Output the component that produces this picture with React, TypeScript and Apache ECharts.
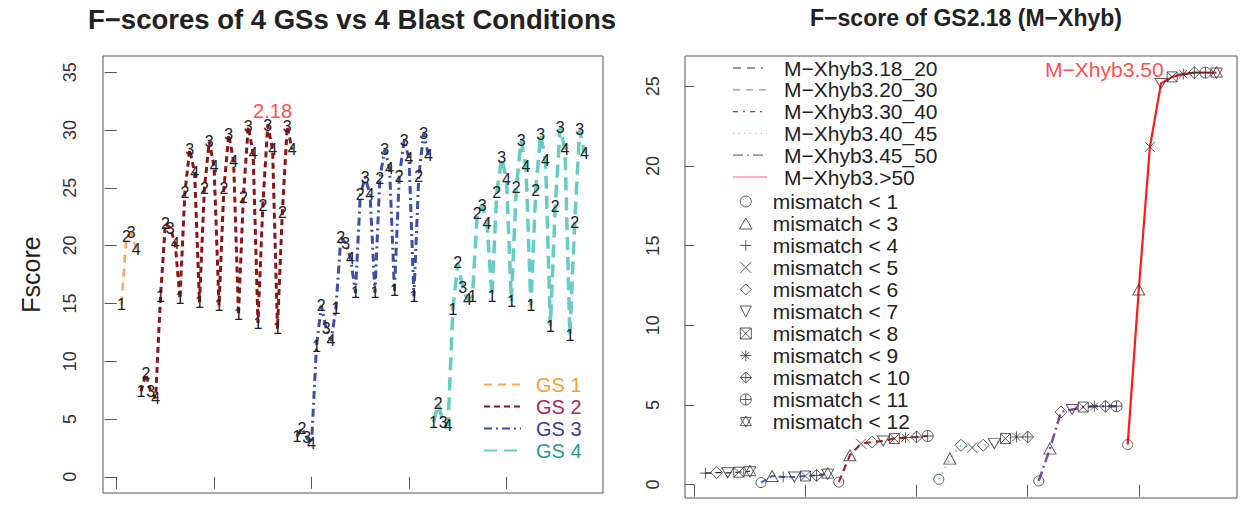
import React, { useEffect, useRef } from 'react';
import * as echarts from 'echarts';

// ---------------- Left panel data ----------------
const blastConditions = ['1', '2', '3', '4'];
const gsNames = ['GS 1', 'GS 2', 'GS 3', 'GS 4'];
const gs1Fscore = [14.9, 20.8, 21.1, 19.7];
const gs2Fscore = [
  7.4, 8.9, 7.35, 6.8,
  15.6, 21.9, 21.5, 20.2,
  15.4, 24.6, 28.3, 26.3,
  15.1, 24.9, 29.0, 26.8,
  14.8, 24.9, 29.6, 27.3,
  14.0, 24.2, 30.3, 28.0,
  13.3, 23.5, 30.4, 28.3,
  12.8, 22.9, 30.3, 28.3,
];
const gs3Fscore = [
  3.5, 4.2, 3.4, 2.9,
  11.3, 14.8, 12.8, 11.75,
  14.6, 20.7, 20.2, 18.9,
  15.9, 24.4, 25.9, 24.4,
  15.9, 25.8, 28.3, 26.7,
  16.1, 26.0, 29.1, 27.5,
  15.6, 26.0, 29.7, 27.8,
];
const gs4Fscore = [
  4.7, 6.3, 4.7, 4.4,
  14.5, 18.5, 16.4, 15.3,
  15.6, 22.8, 23.5, 21.9,
  15.6, 24.6, 27.6, 25.7,
  15.2, 25.0, 29.1, 26.8,
  14.8, 24.8, 29.6, 27.4,
  13.0, 23.4, 30.2, 28.3,
  12.2, 22.0, 30.0, 28.0,
];
const leftXTicks = [0, 20, 40, 60, 80];
const leftYTicks = [0, 5, 10, 15, 20, 25, 30, 35];
const bestGsLabel = '2.18';
const bestGsPoint = [32, 31.6];

// ---------------- Right panel data ----------------
const mxGroupNames = [
  'M\u2212Xhyb3.18_20',
  'M\u2212Xhyb3.20_30',
  'M\u2212Xhyb3.30_40',
  'M\u2212Xhyb3.40_45',
  'M\u2212Xhyb3.45_50',
  'M\u2212Xhyb3.>50',
];
const g1Mismatch = [4, 6, 7, 8, 12];
const g1Fscore = [0.72, 0.76, 0.74, 0.78, 0.84];
const g2Mismatch = [1, 3, 4, 7, 8, 10, 12];
const g2Fscore = [0.13, 0.54, 0.48, 0.48, 0.54, 0.58, 0.69];
const g3Mismatch = [1, 3, 5, 6, 7, 8, 9, 10, 11];
const g3Fscore = [0.16, 1.84, 2.57, 2.67, 2.74, 2.89, 2.95, 2.99, 3.05];
const g4Mismatch = [1, 3, 6, 5, 6, 7, 8, 9, 10];
const g4Fscore = [0.33, 1.63, 2.47, 2.32, 2.47, 2.57, 2.89, 2.99, 2.99];
const g5Mismatch = [1, 3, 6, 7, 8, 9, 10, 11];
const g5Fscore = [0.23, 2.26, 4.56, 4.71, 4.87, 4.92, 4.92, 4.92];
const g6Mismatch = [1, 3, 5, 7, 8, 9, 10, 11, 12];
const g6Fscore = [2.51, 12.24, 21.19, 25.17, 25.59, 25.76, 25.86, 25.86, 25.86];
const mismatchLevels = [1, 3, 4, 5, 6, 7, 8, 9, 10, 11, 12];
const rightXTicks = [0, 10, 20, 30, 40];
const rightYTicks = [0, 5, 10, 15, 20, 25];
const bestMxLabel = 'M\u2212Xhyb3.50';
const bestMxPoint = [36.9, 26.07];

// ---------------- Styles ----------------
const FONT = '"Liberation Sans", Arial, Helvetica, sans-serif';
const AXIS_COLOR = '#555';
const gsLineColors = ['#F9A85A', '#8B1414', '#3A4FA8', '#66CCC4'];
const gsTextColors = ['#F59C38', '#A52A55', '#3C3CA0', '#2A9A90'];
const gsLineWidths = [2.5, 3, 3, 3.5];
const gsLineDash: any[] = [[8, 6], [6, 4], [8, 4, 2, 4], [13, 7]];

const mxLineColors = ['#222222', '#4A67C8', '#B22222', '#5ECEC6', '#7A4BAA', '#FF1A1A'];
const mxLegendColors = ['#333333', '#7F93D8', '#C03A3A', '#8EE0DA', '#8A60B8', '#FF6A6A'];
const mxLineWidths = [1.2, 2, 2.2, 1.6, 2.5, 2.2];
const mxLineDash: any[] = [[6, 4], [6, 4], [7, 5], [1.5, 5], [10, 4, 2, 4], 'solid'];
const mxLegendDash: any[] = [[8, 6, 8, 6, 2, 6], [7, 6], [5, 5, 2, 5], [1.5, 4], [10, 4, 2, 4], null];
const MX_LEGEND = { lineX1: 733, lineX2: 767, textX: 784, firstRowY: 68, rowGap: 21.8 };

function circlePoly(n: number) {
  const p: string[] = [];
  for (let i = 0; i < n; i++) {
    const a = (i / n) * Math.PI * 2;
    p.push(`${Math.cos(a).toFixed(4)},${Math.sin(a).toFixed(4)}`);
  }
  return 'M' + p.join('L') + 'Z';
}
const mismatchSymbols: Record<number, string> = {
  1: 'path://' + circlePoly(28),
  3: 'path://M0,-1L1,0.75L-1,0.75Z',
  4: 'path://M0,-1L0,1M-1,0L1,0',
  5: 'path://M-1,-1L1,1M-1,1L1,-1',
  6: 'path://M0,-1L1,0L0,1L-1,0Z',
  7: 'path://M-1,-1L1,-1L0,1Z',
  8: 'path://M-1,-1L1,-1L1,1L-1,1ZM-1,-1L1,1M-1,1L1,-1',
  9: 'path://M0,-1L0,1M-1,0L1,0M-0.7,-0.7L0.7,0.7M-0.7,0.7L0.7,-0.7',
  10: 'path://M0,-1L1,0L0,1L-1,0ZM0,-1L0,1M-1,0L1,0',
  11: 'path://' + circlePoly(28) + 'M0,-1L0,1M-1,0L1,0',
  12: 'path://M0,-1L1,0.75L-1,0.75ZM0,1L1,-0.75L-1,-0.75Z',
};
const mismatchSizes: Record<number, any> = {
  1: 10, 3: [12, 11], 4: 11, 5: 10, 6: 12, 7: [12, 10], 8: 10, 9: 11, 10: 12, 11: 11, 12: 12,
};

function buildOption() {
  // Left panel series
  const gsArrays = [gs1Fscore, gs2Fscore, gs3Fscore, gs4Fscore];
  let offset = 0;
  const leftSeries: any[] = gsArrays.map((arr, gi) => {
    const data = arr.map((v, k) => [offset + k + 1, v, blastConditions[k % 4]]);
    offset += arr.length;
    return {
      type: 'line',
      name: gsNames[gi],
      xAxisIndex: 0,
      yAxisIndex: 0,
      data,
      symbol: 'circle',
      symbolSize: 1,
      showSymbol: true,
      itemStyle: { color: 'rgba(0,0,0,0)' },
      lineStyle: { color: gsLineColors[gi], width: gsLineWidths[gi], type: gsLineDash[gi] },
      label: {
        show: true,
        position: 'inside',
        formatter: (p: any) => p.data[2],
        color: '#222',
        fontSize: 16,
        fontFamily: FONT,
      },
      emphasis: { disabled: true },
      z: 2,
    };
  });
  leftSeries.push({
    type: 'scatter',
    name: 'best-gs',
    xAxisIndex: 0,
    yAxisIndex: 0,
    data: [bestGsPoint],
    symbolSize: 1,
    itemStyle: { color: 'rgba(0,0,0,0)' },
    label: {
      show: true,
      position: 'inside',
      formatter: bestGsLabel,
      color: '#FF2020',
      fontSize: 20,
      fontFamily: FONT,
    },
    z: 5,
  });

  // Right panel series
  const groups = [
    { m: g1Mismatch, f: g1Fscore },
    { m: g2Mismatch, f: g2Fscore },
    { m: g3Mismatch, f: g3Fscore },
    { m: g4Mismatch, f: g4Fscore },
    { m: g5Mismatch, f: g5Fscore },
    { m: g6Mismatch, f: g6Fscore },
  ];
  const pts: { x: number; y: number; m: number; gi: number }[] = [];
  let off = 0;
  groups.forEach((g, gi) => {
    g.f.forEach((v, k) => pts.push({ x: off + k + 1, y: v, m: g.m[k], gi }));
    off += g.f.length;
  });
  const rightLines: any[] = mxGroupNames.map((name, gi) => ({
    type: 'line',
    name,
    xAxisIndex: 1,
    yAxisIndex: 1,
    data: pts.filter((p) => p.gi === gi).map((p) => [p.x, p.y]),
    symbol: 'none',
    showSymbol: false,
    lineStyle: { color: mxLineColors[gi], width: mxLineWidths[gi], type: mxLineDash[gi] },
    emphasis: { disabled: true },
    z: 2,
  }));
  const rightMarks: any[] = mismatchLevels.map((lvl) => ({
    type: 'scatter',
    name: 'mismatch < ' + lvl,
    xAxisIndex: 1,
    yAxisIndex: 1,
    data: pts.filter((p) => p.m === lvl).map((p) => [p.x, p.y]),
    symbol: mismatchSymbols[lvl],
    symbolSize: mismatchSizes[lvl],
    itemStyle: { color: 'rgba(0,0,0,0)', borderColor: '#333', borderWidth: 1 },
    emphasis: { disabled: true },
    z: 4,
  }));
  rightMarks.push({
    type: 'scatter',
    name: 'best-mx',
    xAxisIndex: 1,
    yAxisIndex: 1,
    data: [bestMxPoint],
    symbolSize: 1,
    itemStyle: { color: 'rgba(0,0,0,0)' },
    label: {
      show: true,
      position: 'inside',
      formatter: bestMxLabel,
      color: '#FF2020',
      fontSize: 21,
      fontFamily: FONT,
    },
    z: 5,
  });

  // Legend for the six M-Xhyb line types (drawn as graphic legend keys)
  const mxLegendGraphics: any[] = [];
  mxGroupNames.forEach((name, i) => {
    const y = MX_LEGEND.firstRowY + i * MX_LEGEND.rowGap;
    mxLegendGraphics.push({
      type: 'line',
      shape: { x1: MX_LEGEND.lineX1, y1: y, x2: MX_LEGEND.lineX2, y2: y },
      style: { stroke: mxLegendColors[i], lineWidth: 1.2, lineDash: mxLegendDash[i] },
      silent: true,
    });
    mxLegendGraphics.push({
      type: 'text',
      x: MX_LEGEND.textX,
      y,
      style: {
        text: name,
        fill: '#222',
        fontSize: 21,
        fontFamily: FONT,
        align: 'left',
        verticalAlign: 'middle',
      },
      silent: true,
    });
  });

  const tickLabel = { fontSize: 18, color: '#333', fontFamily: FONT, rotate: 90 };

  return {
    animation: false,
    backgroundColor: '#fff',
    textStyle: { fontFamily: FONT },
    title: [
      {
        text: 'F\u2212scores of 4 GSs vs 4 Blast Conditions',
        left: 352,
        top: 5,
        padding: 0,
        textAlign: 'center',
        textStyle: { fontSize: 27.5, fontWeight: 'bold', color: '#222', fontFamily: FONT },
      },
      {
        text: 'F\u2212score of GS2.18 (M\u2212Xhyb)',
        left: 966,
        top: 6,
        padding: 0,
        textAlign: 'center',
        textStyle: { fontSize: 23, fontWeight: 'bold', color: '#222', fontFamily: FONT },
      },
    ],
    grid: [
      { left: 103, top: 56, width: 500, height: 437, show: true, borderColor: AXIS_COLOR, borderWidth: 1, containLabel: false },
      { left: 685, top: 56, width: 552, height: 442, show: true, borderColor: AXIS_COLOR, borderWidth: 1, containLabel: false },
    ],
    xAxis: [
      {
        type: 'value', gridIndex: 0, min: -2.8, max: 99.8,
        axisLine: { show: false },
        axisTick: { show: true, length: 12, customValues: leftXTicks, lineStyle: { color: AXIS_COLOR } },
        axisLabel: { show: false },
        splitLine: { show: false },
      },
      {
        type: 'value', gridIndex: 1, min: -0.84, max: 48.84,
        axisLine: { show: false },
        axisTick: { show: true, length: 12, customValues: rightXTicks, lineStyle: { color: AXIS_COLOR } },
        axisLabel: { show: false },
        splitLine: { show: false },
      },
    ],
    yAxis: [
      {
        type: 'value', gridIndex: 0, min: -1.4, max: 36.4,
        name: 'Fscore', nameLocation: 'middle', nameRotate: 90, nameGap: 60,
        nameTextStyle: { fontSize: 25, color: '#222', fontFamily: FONT },
        axisLine: { show: false },
        axisTick: { show: true, length: 12, customValues: leftYTicks, lineStyle: { color: AXIS_COLOR } },
        axisLabel: { ...tickLabel, margin: 24, customValues: leftYTicks },
        splitLine: { show: false },
      },
      {
        type: 'value', gridIndex: 1, min: -0.84, max: 26.9,
        axisLine: { show: false },
        axisTick: { show: true, length: 10, customValues: rightYTicks, lineStyle: { color: AXIS_COLOR } },
        axisLabel: { ...tickLabel, margin: 23, customValues: rightYTicks },
        splitLine: { show: false },
      },
    ],
    legend: [
      {
        orient: 'vertical', left: 483, top: 374, padding: 0, itemGap: 1,
        itemWidth: 37, itemHeight: 14, selectedMode: false,
        data: gsNames.map((n, i) => ({ name: n, textStyle: { color: gsTextColors[i] } })),
        textStyle: { fontSize: 20, lineHeight: 21, fontFamily: FONT, padding: [0, 0, 0, 10] },
      },
      {
        orient: 'vertical', left: 739, top: 191, padding: 0, itemGap: 1,
        itemWidth: 32, itemHeight: 11, selectedMode: false,
        itemStyle: { borderWidth: 1, borderColor: '#333', color: 'rgba(0,0,0,0)' },
        data: mismatchLevels.map((l) => ({ name: 'mismatch < ' + l, textStyle: { color: '#222' } })),
        textStyle: { fontSize: 21, lineHeight: 21, fontFamily: FONT, padding: [0, 0, 0, 6] },
      },
    ],
    graphic: mxLegendGraphics,
    series: [...leftSeries, ...rightLines, ...rightMarks],
  };
}

export default function App() {
  const ref = useRef<HTMLDivElement>(null);
  useEffect(() => {
    if (!ref.current) return;
    const chart = echarts.init(ref.current, undefined, { renderer: 'svg' });
    chart.setOption(buildOption() as any);
    return () => chart.dispose();
  }, []);
  return (
    <div
      ref={ref}
      style={{ position: 'fixed', left: 0, top: 0, width: 1243, height: 506, background: '#fff' }}
    />
  );
}
